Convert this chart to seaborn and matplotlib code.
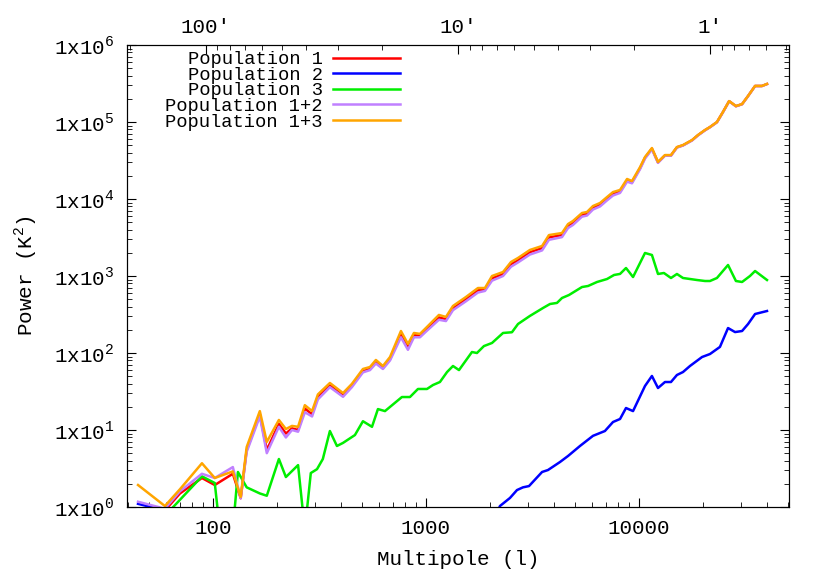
import numpy as np
import pandas as pd
import matplotlib
matplotlib.use("Agg")
import matplotlib.pyplot as plt
from matplotlib.ticker import NullFormatter
import seaborn as sns

# ---- data ----
ell = [44.5, 59.5, 70, 88.8, 102, 124, 135, 144, 166, 179, 204, 220, 235, 251, 270, 292, 311,
       354, 408, 449, 506, 546, 582, 628, 678, 763, 823, 878, 937, 1011, 1150, 1241, 1339,
       1541, 1754, 1892, 2042, 2300, 2507, 2704, 3076, 3508, 3778, 4350, 4645, 4898, 5400,
       5700, 6082, 6561, 7079, 7551, 8147, 8790, 9270, 10120, 10670, 11500, 12280, 13240,
       14130, 15070, 16090, 17740, 18920, 20420, 21540, 23220, 24780, 26490, 28510, 30470,
       32510, 35070, 37770, 39890]
pop13 = [1.93, 1.03, 1.7, 3.7, 2.38, 2.9, 1.35, 6.0, 17.6, 7.0, 13.5, 10.3, 11.3, 11, 21, 17.6, 29,
         40.8, 30.2, 39.7, 62, 65.8, 81.2, 67.8, 88.7, 193, 131, 182, 177, 218, 312, 294, 408,
         534, 698, 698, 1000, 1127, 1520, 1714, 2178, 2455, 3400, 3615, 4730, 5180, 6580,
         6780, 8110, 8870, 10600, 12300, 13100, 18200, 17100, 26000, 35100, 45900, 30300, 37200,
         37200, 47300, 50200, 58300, 67800, 78800, 86100, 100000, 135000, 187000, 161000, 171000,
         218000, 294000, 294000, 312000]
pop12 = [1.17, 0.95, 1.6, 2.7, 2.38, 3.3, 1.3, 5.2, 15, 5.0, 11, 8.0, 10, 9.5, 17, 15, 25,
         36, 27, 36, 56, 60, 73, 62, 80, 160, 110, 160, 160, 195, 270, 260, 360,
         470, 610, 640, 870, 1000, 1320, 1500, 1900, 2150, 2950, 3200, 4200, 4600, 5900,
         6100, 7300, 8000, 9600, 11100, 12000, 16800, 16000, 24500, 33500, 44000, 29500, 36500,
         36500, 46500, 49500, 57500, 67000, 78000, 85500, 99000, 134000, 186000, 160000, 170000,
         217000, 293000, 293000, 311000]
pop1 = [0.9, 0.9, 1.5, 2.38, 1.93, 2.7, 1.3, 5.5, 16, 5.5, 12, 9, 10.5, 10, 19, 16, 27,
        38, 28, 38, 58, 62, 77, 64, 84, 175, 120, 170, 168, 205, 290, 275, 380,
        500, 650, 670, 930, 1060, 1420, 1600, 2040, 2300, 3170, 3400, 4460, 4890, 6240,
        6440, 7700, 8440, 10100, 11700, 12550, 17500, 16500, 25200, 34300, 45000, 29900, 36800,
        36800, 46900, 49800, 57900, 67400, 78400, 85800, 99500, 134500, 186500, 160500, 170500,
        217500, 293500, 293500, 311500]

ell3 = [62.8, 88.8, 102, 107.8, 124, 131, 144, 166, 179, 204, 220, 251, 270, 288, 308, 328, 354,
        382, 408, 464, 506, 558, 595, 642, 771, 841, 917, 1011, 1079, 1163, 1256, 1339, 1429,
        1644, 1735, 1871, 2042, 2300, 2533, 2704, 3076, 3543, 3822, 4121, 4350, 4690, 5400,
        5768, 6353, 7079, 7638, 8147, 8690, 9376, 10670, 11500, 12280, 13090, 14130, 15070,
        16090, 18720, 20420, 21540, 23220, 26180, 28510, 30470, 33190, 35070, 39890]
pop3 = [0.9, 2.5, 2.05, 0.5, 0.5, 2.85, 1.8, 1.5, 1.4, 4.2, 2.45, 3.5, 0.5, 2.76, 3.1, 4.2, 9.7,
        6.2, 6.8, 8.6, 13, 11, 18.7, 17.6, 26.8, 26.8, 34.1, 34.1, 38.4, 42, 56.6, 67.8, 60,
        103, 100, 123, 135, 182, 186, 238, 303, 384, 433, 447, 518, 566, 719,
        742, 836, 914, 1031, 1064, 1270, 970, 1990, 1875, 1062, 1094, 942, 1062,
        942, 887, 861, 861, 942, 1390, 861, 836, 1000, 1161, 887]

ell2 = [44.5, 59.5, 70, 100, 200, 500, 1000, 2042, 2225, 2479, 2675, 2853, 3046, 3508, 3738,
        4258, 4645, 5284, 6082, 6918, 7551, 8147, 8690, 9376, 10670, 11500, 12280, 13240,
        14130, 15070, 16090, 17350, 19770, 21540, 23990, 26180, 28240, 30470, 32510, 35070, 39890]
pop2 = [1.1, 0.9, 0.6, 0.5, 0.4, 0.3, 0.3, 0.6, 1.03, 1.31, 1.66, 1.80, 1.87, 2.85, 3.02,
        3.84, 4.6, 6.2, 8.4, 9.7, 12.7, 13.9, 19.3, 17.6, 37.3, 50.3, 35.1, 42,
        42, 51.8, 56.6, 67.8, 88.7, 97, 120, 211, 187, 193, 238, 321, 351]

labels = ["Population 1", "Population 2", "Population 3", "Population 1+2", "Population 1+3"]
colors = ["#ff0000", "#0000ff", "#00ee00", "#c080ff", "#ffa500"]
arcmin_major = [100, 10, 1]
arcmin_labels = ["100\u2032", "10\u2032", "1\u2032"]

plt.rcParams.update({"font.family": "Liberation Mono", "font.size": 15,
                     "mathtext.fontset": "custom", "mathtext.rm": "Liberation Mono"})
fig = plt.figure(figsize=(8.3, 5.81), dpi=100)
ax = fig.add_axes([127 / 830, 1 - 507 / 581, 662 / 830, 462 / 581])

series = [(ell, pop1), (ell2, pop2), (ell3, pop3), (ell, pop12), (ell, pop13)]
for (x, y), lab, c in zip(series, labels, colors):
    sns.lineplot(x=x, y=y, ax=ax, color=c, linewidth=1.8, label=lab, sort=False)

ax.set_xscale("log")
ax.set_yscale("log")
ax.set_xlim(39.5, 50600)
ax.set_ylim(1, 1e6)
ax.set_xticks([100, 1000, 10000])
ax.set_xticklabels(["100", "1000", "10000"])
ax.set_yticks([10.0**k for k in range(7)])
ax.set_yticklabels([r"1x10$^{%d}$" % k for k in range(7)])
ax.tick_params(which="major", direction="in", length=6.5, top=False, right=True, pad=9)
ax.tick_params(which="minor", direction="in", length=3.3, top=False, right=True)
ax.set_xlabel("Multipole (l)", labelpad=8)
ax.set_ylabel(r"Power (K$^2$)", labelpad=10)


# top axis: arcminutes on their own log scale (about 252 px per decade)
def arcmin_to_ell(t):
    px = 458 - 252 * np.log10(np.asarray(t, dtype=float) / 10)
    return 10 ** (2 + (px - 213) / 213)


top = ax.twiny()
top.set_xscale("log")
top.set_xlim(ax.get_xlim())
top.set_xticks(arcmin_to_ell(arcmin_major))
top.set_xticklabels(arcmin_labels)
minor_t = [m * 10.0**d for d in range(-1, 3) for m in range(2, 10)]
minor_t = [t for t in minor_t if 0.5 <= t <= 200]
top.set_xticks(arcmin_to_ell(minor_t), minor=True)
top.xaxis.set_minor_formatter(NullFormatter())
top.tick_params(which="major", direction="in", length=6.5, pad=6)
top.tick_params(which="minor", direction="in", length=3.3)

leg = ax.legend(loc="upper left", bbox_to_anchor=(165 / 830, 1 - 51 / 581),
                bbox_transform=fig.transFigure, frameon=False, markerfirst=False,
                handlelength=3.6, handletextpad=0.55, labelspacing=-0.08,
                borderaxespad=0, borderpad=0, fontsize=13.5)
for t in leg.get_texts():
    t.set_ha("right")
leg._legend_box.align = "right"

fig.savefig("out.png", dpi=100)
